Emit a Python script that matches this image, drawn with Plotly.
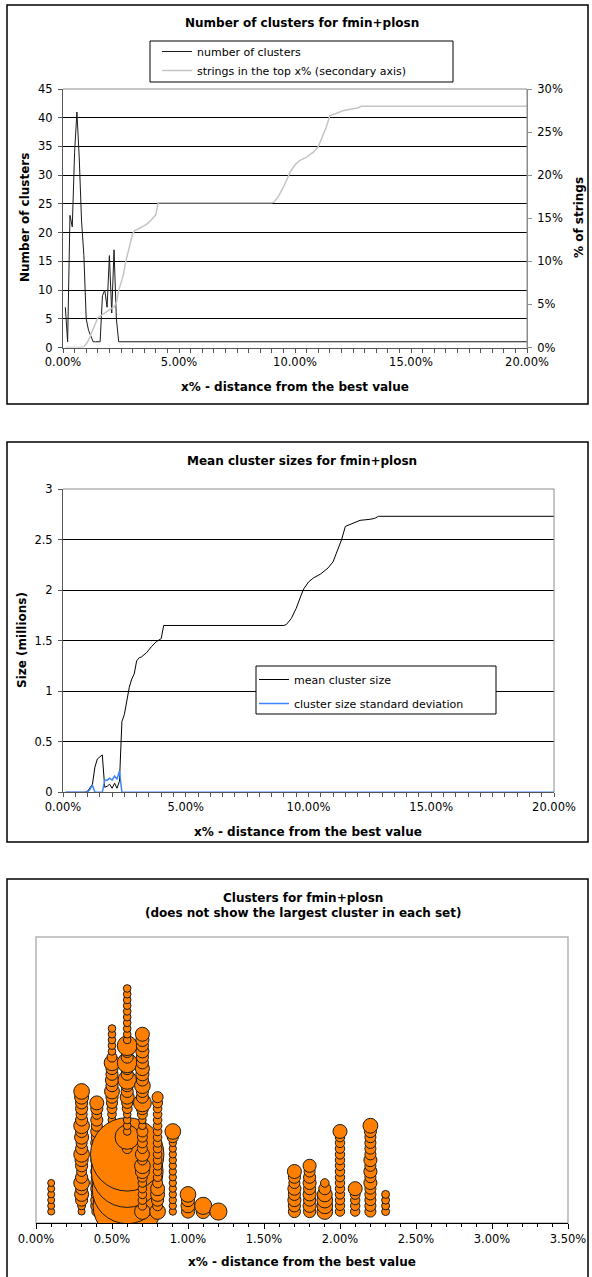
import plotly.graph_objects as go

W, H = 592, 1277
FONT = "DejaVu Sans"

# ---------------- data ----------------
# Chart 1: number of clusters vs x% (distance from best value, %)
clusters_x = [0.1, 0.2, 0.3, 0.4, 0.5, 0.6, 0.7, 0.8, 0.9, 1.0, 1.1, 1.2, 1.3, 1.4, 1.5,
              1.6, 1.7, 1.8, 1.9, 2.0, 2.1, 2.2, 2.3, 2.4, 20.0]
clusters_n = [7, 1, 23, 21, 34, 41, 33, 22, 16, 5, 3, 2, 1, 1, 1,
              1, 9, 10, 7, 16, 6, 17, 5, 1, 1]

# strings in the top x% (secondary axis, %)
strings_x = [0.1, 0.8, 0.9, 1.0, 1.1, 1.2, 1.3, 1.4, 1.5, 1.6, 1.7, 1.8, 1.9, 2.0, 2.1, 2.2,
             2.3, 2.4, 2.5, 2.6, 2.7, 2.8, 2.9, 3.0, 3.1, 3.2, 3.4, 3.6, 3.8, 4.0, 4.1,
             9.0, 9.1, 9.3, 9.5, 9.7, 9.8, 10.0, 10.2, 10.5, 10.8, 11.0, 11.2, 11.35, 11.5,
             11.8, 12.1, 12.5, 12.7, 12.85, 20.0]
strings_pct = [0.0, 0.0, 0.1, 0.4, 0.85, 1.5, 2.3, 3.0, 3.45, 3.65, 3.8, 4.0, 4.2, 4.35, 4.5, 4.7,
               5.2, 6.6, 7.5, 8.4, 9.9, 11.0, 11.8, 13.2, 13.6, 13.7, 14.0, 14.3, 14.8, 15.4, 16.8,
               16.8, 16.9, 17.6, 18.6, 19.8, 20.4, 21.2, 21.7, 22.1, 22.7, 23.3, 24.6, 25.6, 26.9,
               27.2, 27.5, 27.7, 27.8, 28.0, 28.0]

# Chart 2: mean cluster size and standard deviation (millions)
mean_x = [0.1, 0.2, 0.3, 0.4, 0.5, 0.6, 0.7, 0.8, 0.9, 1.0, 1.1, 1.2, 1.3, 1.4, 1.5, 1.6,
          1.7, 1.8, 1.9, 2.0, 2.1, 2.2, 2.3, 2.4, 2.5, 2.6, 2.7, 2.8, 2.9, 3.0, 3.1, 3.2,
          3.4, 3.6, 3.8, 4.0, 4.1, 9.0, 9.1, 9.3, 9.5, 9.7, 9.8, 10.0, 10.2, 10.5, 10.8,
          11.0, 11.2, 11.35, 11.5, 11.8, 12.1, 12.5, 12.7, 12.85, 20.0]
mean_size = [0, 0, 0, 0, 0, 0, 0, 0, 0, 0.01, 0.04, 0.08, 0.25, 0.33, 0.35, 0.37,
             0.05, 0.06, 0.08, 0.04, 0.09, 0.04, 0.11, 0.70, 0.77, 0.91, 1.04, 1.12, 1.17, 1.30, 1.33, 1.34,
             1.38, 1.44, 1.49, 1.52, 1.65, 1.65, 1.66, 1.72, 1.82, 1.95, 2.01, 2.08, 2.12, 2.16, 2.22,
             2.28, 2.40, 2.50, 2.63, 2.66, 2.69, 2.70, 2.71, 2.73, 2.73]
sd_x = [0.1, 1.0, 1.1, 1.2, 1.3, 1.6, 1.7, 1.8, 1.9, 2.0, 2.1, 2.2, 2.3, 2.4, 20.0]
sd_size = [0, 0, 0.03, 0.07, 0, 0, 0.12, 0.12, 0.14, 0.12, 0.16, 0.13, 0.21, 0, 0]

# Chart 3: clusters (rank 2..N) in each set, cluster sizes (relative units)
bubble_x = [0.1, 0.3, 0.4, 0.5, 0.6, 0.7, 0.8, 0.9, 1.0, 1.1, 1.2, 1.7, 1.8, 1.9, 2.0, 2.1, 2.2, 2.3]
bubble_sizes = [
    [1, 1, 1, 1, 1, 1],
    [1, 1.3, 3, 4, 3, 5, 3, 2, 3, 3.5, 5, 3, 2.5, 4, 3, 5, 3, 2.5, 3, 3, 4, 5],
    [2, 3, 3, 2.5, 3, 3, 2.5, 3, 2.5, 3, 2.5, 2, 3, 2.5, 3, 2.5, 3, 2, 3, 4],
    [3, 3, 3, 3, 3, 3, 3, 3, 3, 3, 3, 3, 2.5, 2,
     2, 1.3, 1.3, 1.5, 2, 2.5, 3, 4.5, 3, 3.5, 3, 3, 5, 2,
     1.2, 1.2, 1.2, 1.2, 1.2],
    [3, 95, 3, 3, 100, 3, 3, 105, 3, 3, 110, 2,
     2, 12, 1.2, 1.2, 1.2, 1.2, 2, 2.5, 4, 3, 3, 7, 3, 3, 8, 3, 3, 8,
     1.2, 1.2, 1.2, 1.2, 1.2, 1.2, 1.2, 1.2, 1.2, 1.2],
    [5, 1.5, 1.5, 1.5, 1.5, 1.5, 2, 4, 5, 2, 4, 2, 2, 2, 2.5, 1.2, 1.2, 2, 3, 6.5,
     3, 3, 5, 3, 3.5, 4, 3, 3, 3.5, 3, 3.5, 4],
    [5, 2, 3, 4, 4, 2] + [1.5] * 13 + [2, 2.5],
    [1.1] * 13 + [2.5, 5],
    [3.5, 4, 3.5, 5],
    [4, 6],
    [6],
    [3, 3, 3.5, 3, 3.5, 2.5, 3, 4],
    [3, 3.5, 3, 3.5, 3, 3.5, 3, 2.5, 3.5],
    [5, 5, 5, 4.5, 3, 1.5],
    [1.8] * 14 + [4],
    [1.8, 1.8, 1.8, 2, 4],
    [2.5, 2.5, 2.5, 2.5, 2.5, 3.5, 2.5, 3.5, 2.5, 3.5, 2.5, 2.5, 2.5, 2.5, 3, 4.5],
    [1.3, 1.3, 1.3, 1.3],
]


# ---------------- helpers ----------------
def px(x):
    return x / W


def py(y):
    return 1 - y / H


TICK_SIZE = 11.5
tickfont = dict(family=FONT, size=TICK_SIZE, color="black")
AX = "#555555"
BORDER = "#8c8c8c"
UNIT_D = 7.0  # bubble diameter (px) of a cluster of size 1

fig = go.Figure()

fig.add_trace(go.Scatter(x=clusters_x, y=clusters_n, mode="lines", name="number of clusters",
                         line=dict(color="#1a1a1a", width=1), xaxis="x", yaxis="y",
                         legend="legend", legendgroup="a"))
fig.add_trace(go.Scatter(x=strings_x, y=strings_pct, mode="lines",
                         name="strings in the top x% (secondary axis)",
                         line=dict(color="#c4c4c4", width=1.5), xaxis="x", yaxis="y2",
                         legend="legend", legendgroup="b"))
fig.add_trace(go.Scatter(x=mean_x, y=mean_size, mode="lines", name="mean cluster size",
                         line=dict(color="black", width=1), xaxis="x2", yaxis="y3",
                         legend="legend2", legendgroup="c"))
fig.add_trace(go.Scatter(x=sd_x, y=sd_size, mode="lines", name="cluster size standard deviation",
                         line=dict(color="#3d85ff", width=1.5), xaxis="x2", yaxis="y3",
                         legend="legend2", legendgroup="d"))

bx, by, bs = [], [], []
for xv, sizes in zip(bubble_x, bubble_sizes):
    for i, s in enumerate(sizes):
        bx.append(xv)
        by.append(i + 2)
        bs.append(s)
fig.add_trace(go.Scatter(x=bx, y=by, mode="markers", showlegend=False,
                         marker=dict(size=bs, sizemode="area", sizeref=2 / UNIT_D ** 2,
                                     color="#ff8000", opacity=1,
                                     line=dict(color="#1a1a1a", width=1)),
                         xaxis="x3", yaxis="y4"))

xcommon = dict(ticks="outside", ticklen=4, tickcolor=AX, showline=True, linecolor=AX,
               showgrid=False, zeroline=False, tickfont=tickfont, tickformat=".2f",
               ticksuffix="%", tick0=0, fixedrange=True, automargin=False)

fig.update_layout(
    width=W, height=H, margin=dict(l=0, r=0, t=0, b=0, pad=0, autoexpand=False),
    paper_bgcolor="white", plot_bgcolor="white",
    font=dict(family=FONT, size=11, color="black"),
    xaxis=dict(domain=[px(63), px(527)], anchor="y", range=[0, 20], dtick=5,
               minor=dict(dtick=0.5, ticks="outside", ticklen=4, tickcolor=AX), **xcommon),
    yaxis=dict(domain=[py(347.5), py(89)], anchor="x", range=[0, 45], dtick=5,
               ticks="outside", ticklen=4, tickcolor=AX, showline=True, linecolor=AX,
               showgrid=True, gridcolor="black", gridwidth=1, zeroline=False,
               tickfont=tickfont, ticklabelstandoff=3, automargin=False, fixedrange=True),
    yaxis2=dict(overlaying="y", side="right", anchor="x", range=[0, 30], dtick=5,
                ticksuffix="%", ticks="outside", ticklen=4, tickcolor=BORDER,
                showline=True, linecolor=BORDER, showgrid=False, zeroline=False,
                tickfont=tickfont, ticklabelstandoff=3, automargin=False, fixedrange=True),
    xaxis2=dict(domain=[px(63), px(554)], anchor="y3", range=[0, 20], dtick=5,
                minor=dict(dtick=0.5, ticks="outside", ticklen=4, tickcolor=AX), **xcommon),
    yaxis3=dict(domain=[py(792.3), py(489)], anchor="x2", range=[0, 3], dtick=0.5,
                ticks="outside", ticklen=4, tickcolor=AX, showline=True, linecolor=AX,
                showgrid=True, gridcolor="black", gridwidth=1, zeroline=False,
                tickfont=tickfont, ticklabelstandoff=3, automargin=False, fixedrange=True),
    xaxis3=dict(domain=[px(36), px(568)], anchor="y4", range=[0, 3.5], dtick=0.5,
                minor=dict(dtick=0.1, ticks="outside", ticklen=3, tickcolor="black"),
                **{**xcommon, "linecolor": "black", "tickcolor": "black", "ticklen": 5}),
    yaxis4=dict(domain=[py(1223), py(937)], anchor="x3", range=[0, 50], visible=False,
                fixedrange=True, automargin=False),
    legend=dict(x=px(157), y=py(37), xanchor="left", yanchor="top",
                bgcolor="rgba(0,0,0,0)", borderwidth=0, font=dict(family=FONT, size=11),
                tracegroupgap=0),
    legend2=dict(x=px(254), y=py(665), xanchor="left", yanchor="top",
                 bgcolor="rgba(0,0,0,0)", borderwidth=0, font=dict(family=FONT, size=11),
                 tracegroupgap=5),
)

shapes = []
# panel frames
for (y0, y1) in [(5, 404), (442, 842), (879, 1290)]:
    shapes.append(dict(type="rect", xref="paper", yref="paper", x0=px(7), x1=px(588),
                       y0=py(y1), y1=py(y0), line=dict(color="black", width=1.5),
                       fillcolor="rgba(0,0,0,0)", layer="below"))
# plot-area borders (top / right, and full frame for the bubble chart)
for xr, yr in [("x", "y"), ("x2", "y3")]:
    shapes.append(dict(type="line", xref=xr + " domain", yref=yr + " domain",
                       x0=0, x1=1, y0=1, y1=1, line=dict(color=BORDER, width=1), layer="above"))
    shapes.append(dict(type="line", xref=xr + " domain", yref=yr + " domain",
                       x0=1, x1=1, y0=0, y1=1, line=dict(color=BORDER, width=1), layer="above"))
shapes.append(dict(type="rect", xref="x3 domain", yref="y4 domain", x0=0, x1=1, y0=0, y1=1,
                   line=dict(color="#b4b4b4", width=1.5), layer="below"))
# legend boxes
shapes.append(dict(type="rect", xref="paper", yref="paper", x0=px(150), x1=px(453),
                   y0=py(82), y1=py(41), line=dict(color="black", width=1),
                   fillcolor="white", layer="above"))
shapes.append(dict(type="rect", xref="paper", yref="paper", x0=px(256), x1=px(496),
                   y0=py(714), y1=py(666), line=dict(color="black", width=1),
                   fillcolor="white", layer="above"))
fig.update_layout(shapes=shapes)


def label(text, x, y, angle=0, size=12):
    return dict(text="<b>" + text + "</b>", x=px(x), y=py(y), xref="paper", yref="paper",
                showarrow=False, xanchor="center", yanchor="middle", textangle=angle,
                font=dict(family=FONT, size=size, color="black"))


fig.update_layout(annotations=[
    label("Number of clusters for fmin+plosn", 302, 23),
    label("x% - distance from the best value", 295, 387),
    label("Number of clusters", 25, 218, -90),
    label("% of strings", 579, 218, -90),
    label("Mean cluster sizes for fmin+plosn", 302, 461),
    label("Size (millions)", 22, 640, -90),
    label("x% - distance from the best value", 308, 832),
    label("Clusters for fmin+plosn", 303, 898),
    label("(does not show the largest cluster in each set)", 303, 913),
    label("x% - distance from the best value", 302, 1262),
])

fig.write_html("out.html", config={"displayModeBar": False},
               post_script="document.body.style.margin='0px';")
